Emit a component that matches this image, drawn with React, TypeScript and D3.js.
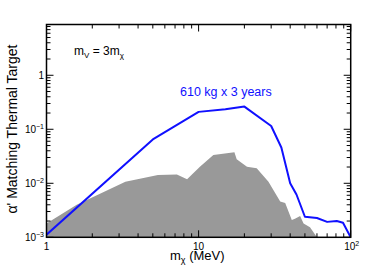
import React from 'react';
import * as d3 from 'd3';

// blue sensitivity curve: 610 kg x 3 years
const blueMass = [1, 5, 10, 15, 20, 30, 35, 40, 44, 50, 60, 70, 81, 89, 100];
const blueAlpha = [1.12e-3, 0.065, 0.21, 0.234, 0.263, 0.115, 0.046, 0.01, 0.0062, 0.0024, 0.00228, 0.00193, 0.002, 0.00186, 1.0e-3];

// gray excluded region
const grayMass = [1, 1.58, 3.3, 5.4, 7.2, 8.4, 10.2, 12.5, 17.2, 17.8, 20.8, 24.1, 28.8, 34.4, 37.1, 41, 43, 46.5, 49, 54, 60];
const grayAlpha = [1.8e-3, 4.0e-3, 0.0107, 0.0143, 0.0145, 0.0119, 0.0203, 0.0334, 0.0375, 0.0278, 0.0203, 0.019, 0.0107, 0.0046, 0.0043, 0.0021, 0.0022, 0.00248, 0.0018, 0.00153, 1.0e-3];

const xTickVals = [1, 10, 100];
const xTickBase = ['1', '10', '10'];
const xTickExp = ['', '', '2'];
const yTickVals = [1e-3, 1e-2, 1e-1, 1];
const yTickBase = ['10', '10', '10', '1'];
const yTickExp = ['\u22123', '\u22122', '\u22121', ''];

const W = 390;
const H = 267;
const left = 46.5, right = 350.7, top = 24.5, bottom = 237.3;

const App = () => {
  const x = d3.scaleLog().domain([1, 100]).range([left, right]);
  const y = d3.scaleLog().domain([1e-3, Math.pow(10, 0.94)]).range([bottom, top]);

  const grayPts = grayMass.map((m, i) => [m, grayAlpha[i]] as [number, number]);
  const bluePts = blueMass.map((m, i) => [m, blueAlpha[i]] as [number, number]);

  const area = d3.area<[number, number]>()
    .x(d => x(d[0]))
    .y0(y(1e-3))
    .y1(d => y(d[1]));
  const line = d3.line<[number, number]>()
    .x(d => x(d[0]))
    .y(d => y(d[1]));

  const isMajor = (v: number) => Math.abs(Math.log10(v) - Math.round(Math.log10(v))) < 1e-6;
  const xt = x.ticks();
  const yt = y.ticks();

  const font = 'Liberation Sans, Arial, Helvetica, sans-serif';

  return (
    <svg width={W} height={H} style={{ position: 'absolute', left: 0, top: 0 }} fontFamily={font}>
      <rect x={0} y={0} width={W} height={H} fill="white" />
      <defs>
        <clipPath id="plot">
          <rect x={left} y={top} width={right - left} height={bottom - top} />
        </clipPath>
      </defs>
      <g clipPath="url(#plot)">
        <path d={area(grayPts) || ''} fill="#999999" />
        <path d={line(bluePts) || ''} fill="none" stroke="#1010ff" strokeWidth={2} strokeLinejoin="round" />
      </g>

      {/* ticks on all four sides */}
      {xt.map((v, i) => {
        const len = isMajor(v) ? 7 : 4;
        return (
          <g key={'xt' + i} stroke="black" strokeWidth={1}>
            <line x1={x(v)} x2={x(v)} y1={bottom} y2={bottom - len} />
            <line x1={x(v)} x2={x(v)} y1={top} y2={top + len} />
          </g>
        );
      })}
      {yt.map((v, i) => {
        const len = isMajor(v) ? 7 : 4;
        return (
          <g key={'yt' + i} stroke="black" strokeWidth={1}>
            <line x1={left} x2={left + len} y1={y(v)} y2={y(v)} />
            <line x1={right} x2={right - len} y1={y(v)} y2={y(v)} />
          </g>
        );
      })}
      <rect x={left} y={top} width={right - left} height={bottom - top} fill="none" stroke="black" strokeWidth={1.5} />

      {/* tick labels */}
      {xTickVals.map((v, i) => (
        <text key={'xl' + i} x={x(v) + (xTickExp[i] ? 1 : 0)} y={250} fontSize={10} textAnchor="middle">
          {xTickBase[i]}
          {xTickExp[i] && <tspan fontSize={7} dy={-4}>{xTickExp[i]}</tspan>}
        </text>
      ))}
      {yTickVals.map((v, i) => (
        <text key={'yl' + i} x={44} y={y(v) + 4} fontSize={10} textAnchor="end">
          {yTickBase[i]}
          {yTickExp[i] && <tspan fontSize={7} dy={-4}>{yTickExp[i]}</tspan>}
        </text>
      ))}

      {/* axis titles */}
      <text x={170} y={260} fontSize={13}>
        m<tspan fontSize={9} dy={3}>χ</tspan><tspan dy={-3}> (MeV)</tspan>
      </text>
      <text transform={`translate(17,129) rotate(-90)`} fontSize={14} textAnchor="middle">
        α' Matching Thermal Target
      </text>

      {/* annotations */}
      <text x={74} y={55} fontSize={12}>
        m<tspan fontSize={8} dy={3}>V</tspan><tspan dy={-3}> = 3m</tspan><tspan fontSize={8} dy={3}>χ</tspan>
      </text>
      <text x={180} y={96} fontSize={12.5} fill="#1010ff">610 kg x 3 years</text>
    </svg>
  );
};

export default App;
